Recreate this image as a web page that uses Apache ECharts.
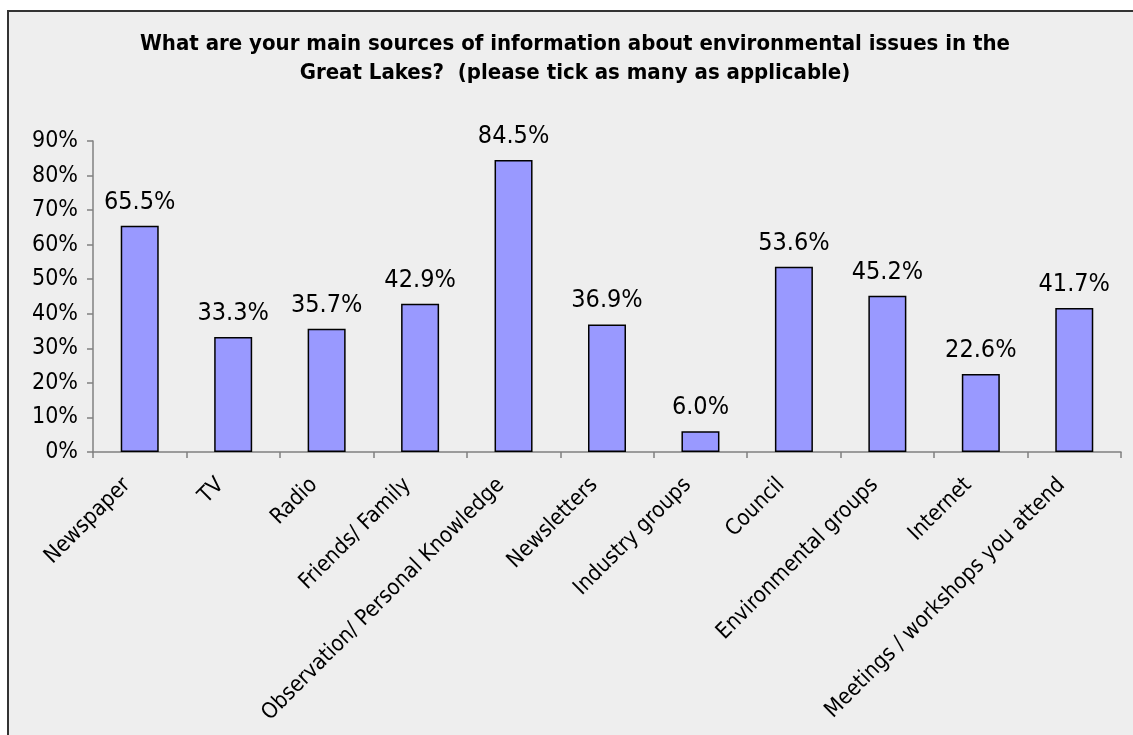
<!DOCTYPE html>
<html>
<head>
<meta charset="utf-8">
<script src="https://cdn.jsdelivr.net/npm/echarts@6/dist/echarts.min.js"></script>
<style>
  html, body { margin: 0; padding: 0; background: #ffffff; }
  #chart { width: 1133px; height: 735px; }
</style>
</head>
<body>
<div id="chart"></div>
<script>
// Survey answers: share of respondents naming each information source
const categories = [
  'Newspaper', 'TV', 'Radio', 'Friends/ Family',
  'Observation/ Personal Knowledge', 'Newsletters', 'Industry groups',
  'Council', 'Environmental groups', 'Internet',
  'Meetings / workshops you attend'
];
const shares = [65.5, 33.3, 35.7, 42.9, 84.5, 36.9, 6.0, 53.6, 45.2, 22.6, 41.7];
const yTicks = { min: 0, max: 90, step: 10 };

const FONT = '"DejaVu Sans Condensed", "DejaVu Sans", sans-serif';

const chart = echarts.init(document.getElementById('chart'));
chart.setOption({
  animation: false,
  backgroundColor: '#ffffff',
  graphic: [{
    type: 'rect',
    silent: true,
    z: -100,
    shape: { x: 8, y: 11, width: 1200, height: 800 },
    style: { fill: '#eeeeee', stroke: '#333333', lineWidth: 2 }
  }],
  title: {
    text: 'What are your main sources of information about environmental issues in the\nGreat Lakes?  (please tick as many as applicable)',
    left: 570,
    top: 25,
    textAlign: 'center',
    textStyle: {
      fontFamily: FONT,
      fontWeight: 'bold',
      fontSize: 22,
      lineHeight: 29,
      color: '#000000',
      align: 'center'
    }
  },
  grid: { left: 93, right: 12, top: 141, bottom: 283, containLabel: false },
  xAxis: {
    type: 'category',
    data: categories,
    axisLine: { lineStyle: { color: '#808080', width: 1.5 } },
    axisTick: { show: true, length: 6, lineStyle: { color: '#808080', width: 1.5 } },
    axisLabel: {
      interval: 0,
      rotate: 45,
      margin: 17,
      padding: [0, 18, 0, 0],
      color: '#000000',
      fontFamily: FONT,
      fontSize: 22
    }
  },
  yAxis: {
    type: 'value',
    min: yTicks.min,
    max: yTicks.max,
    interval: yTicks.step,
    splitLine: { show: false },
    axisLine: { show: true, lineStyle: { color: '#808080', width: 1.5 } },
    axisTick: { show: true, length: 6, lineStyle: { color: '#808080', width: 1.5 } },
    axisLabel: {
      margin: 15,
      color: '#000000',
      fontFamily: FONT,
      fontSize: 23,
      formatter: v => v + '%'
    }
  },
  series: [{
    type: 'bar',
    data: shares,
    barWidth: 38,
    itemStyle: { color: '#9999ff', borderColor: '#000000', borderWidth: 1.5 },
    label: {
      show: true,
      position: 'top',
      distance: 11,
      color: '#000000',
      fontFamily: FONT,
      fontSize: 25,
      formatter: p => p.value.toFixed(1) + '%'
    }
  }]
});
</script>
</body>
</html>
